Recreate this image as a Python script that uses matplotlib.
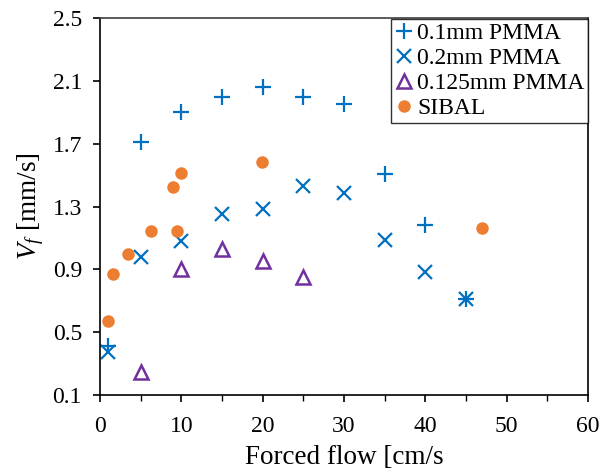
"""Flame spread rate vs forced flow."""
import matplotlib.pyplot as plt
import numpy as np

plt.rcParams['font.family'] = ['Liberation Serif', 'DejaVu Serif']
plt.rcParams['mathtext.fontset'] = 'custom'
plt.rcParams['mathtext.rm'] = 'Liberation Serif'
plt.rcParams['mathtext.it'] = 'Liberation Serif:italic'

# data
flow_01 = [1, 5, 10, 15, 20, 25, 30, 35, 40, 45]
vf_01 = [0.41, 1.71, 1.90, 2.00, 2.06, 2.00, 1.955, 1.505, 1.18, 0.71]

flow_02 = [1, 5, 10, 15, 20, 25, 30, 35, 40, 45]
vf_02 = [0.375, 0.98, 1.08, 1.25, 1.285, 1.43, 1.385, 1.09, 0.885, 0.71]

flow_0125 = [5, 10, 15, 20, 25]
vf_0125 = [0.25, 0.90, 1.03, 0.955, 0.855]

flow_sibal = [1.0, 1.6, 3.4, 6.3, 9.0, 9.5, 10.0, 19.9, 47.0]
vf_sibal = [0.572, 0.87, 1.0, 1.145, 1.425, 1.145, 1.515, 1.585, 1.164]

blue = '#0070C0'
orange = '#ED7D31'
purple = '#7030A0'

fig = plt.figure(figsize=(6.02, 4.75), dpi=100)
ax = fig.add_axes([0.166, 0.168, 0.811, 0.794])

ax.plot(flow_01, vf_01, ls='none', marker='+', ms=11, mew=1.6, color=blue, label='0.1mm PMMA')
ax.plot(flow_02, vf_02, ls='none', marker='x', ms=10, mew=1.6, color=blue, label='0.2mm PMMA')
ax.plot(flow_0125, vf_0125, ls='none', marker='^', ms=10, mew=1.8, mfc='none', color=purple,
        label='0.125mm PMMA')
ax.plot(flow_sibal, vf_sibal, ls='none', marker='o', ms=9, mew=0, color=orange, label='SIBAL')

ax.set_xlim(0, 60)
ax.set_ylim(0.1, 2.5)
ax.set_xticks(np.arange(0, 61, 10))
ax.set_xticks(np.arange(0, 61, 5), minor=True)
ax.set_yticks(np.arange(0.1, 2.51, 0.4))
ax.set_yticklabels(['0.1', '0.5', '0.9', '1.3', '1.7', '2.1', '2.5'])
ax.tick_params(axis='x', which='major', direction='out', length=5, width=1.2, labelsize=17, pad=10)
ax.tick_params(axis='y', which='major', direction='out', length=5, width=1.2, labelsize=17, pad=8)
ax.tick_params(axis='x', which='minor', direction='out', length=4, width=1.0)
ax.tick_params(axis='y', which='minor', left=False)

for side in ['left', 'bottom', 'right']:
    ax.spines[side].set_linewidth(1.2)
    ax.spines[side].set_color('black')
ax.spines['top'].set_color('#404040')
ax.spines['top'].set_linewidth(1.2)

ax.set_xlabel('Forced flow [cm/s', fontsize=19.5, labelpad=6)
ax.set_ylabel(r'$V_f$ [mm/s]', fontsize=19.5, labelpad=5)

leg = ax.legend(loc='upper right', bbox_to_anchor=(1.0, 0.997), fontsize=17, frameon=True,
                fancybox=False, edgecolor='black', handlelength=0.8, handletextpad=0.15,
                borderpad=0.15, labelspacing=0.15, borderaxespad=0.0, markerscale=1.0)
leg.get_frame().set_linewidth(1.0)

fig.savefig('out.png', dpi=100)
